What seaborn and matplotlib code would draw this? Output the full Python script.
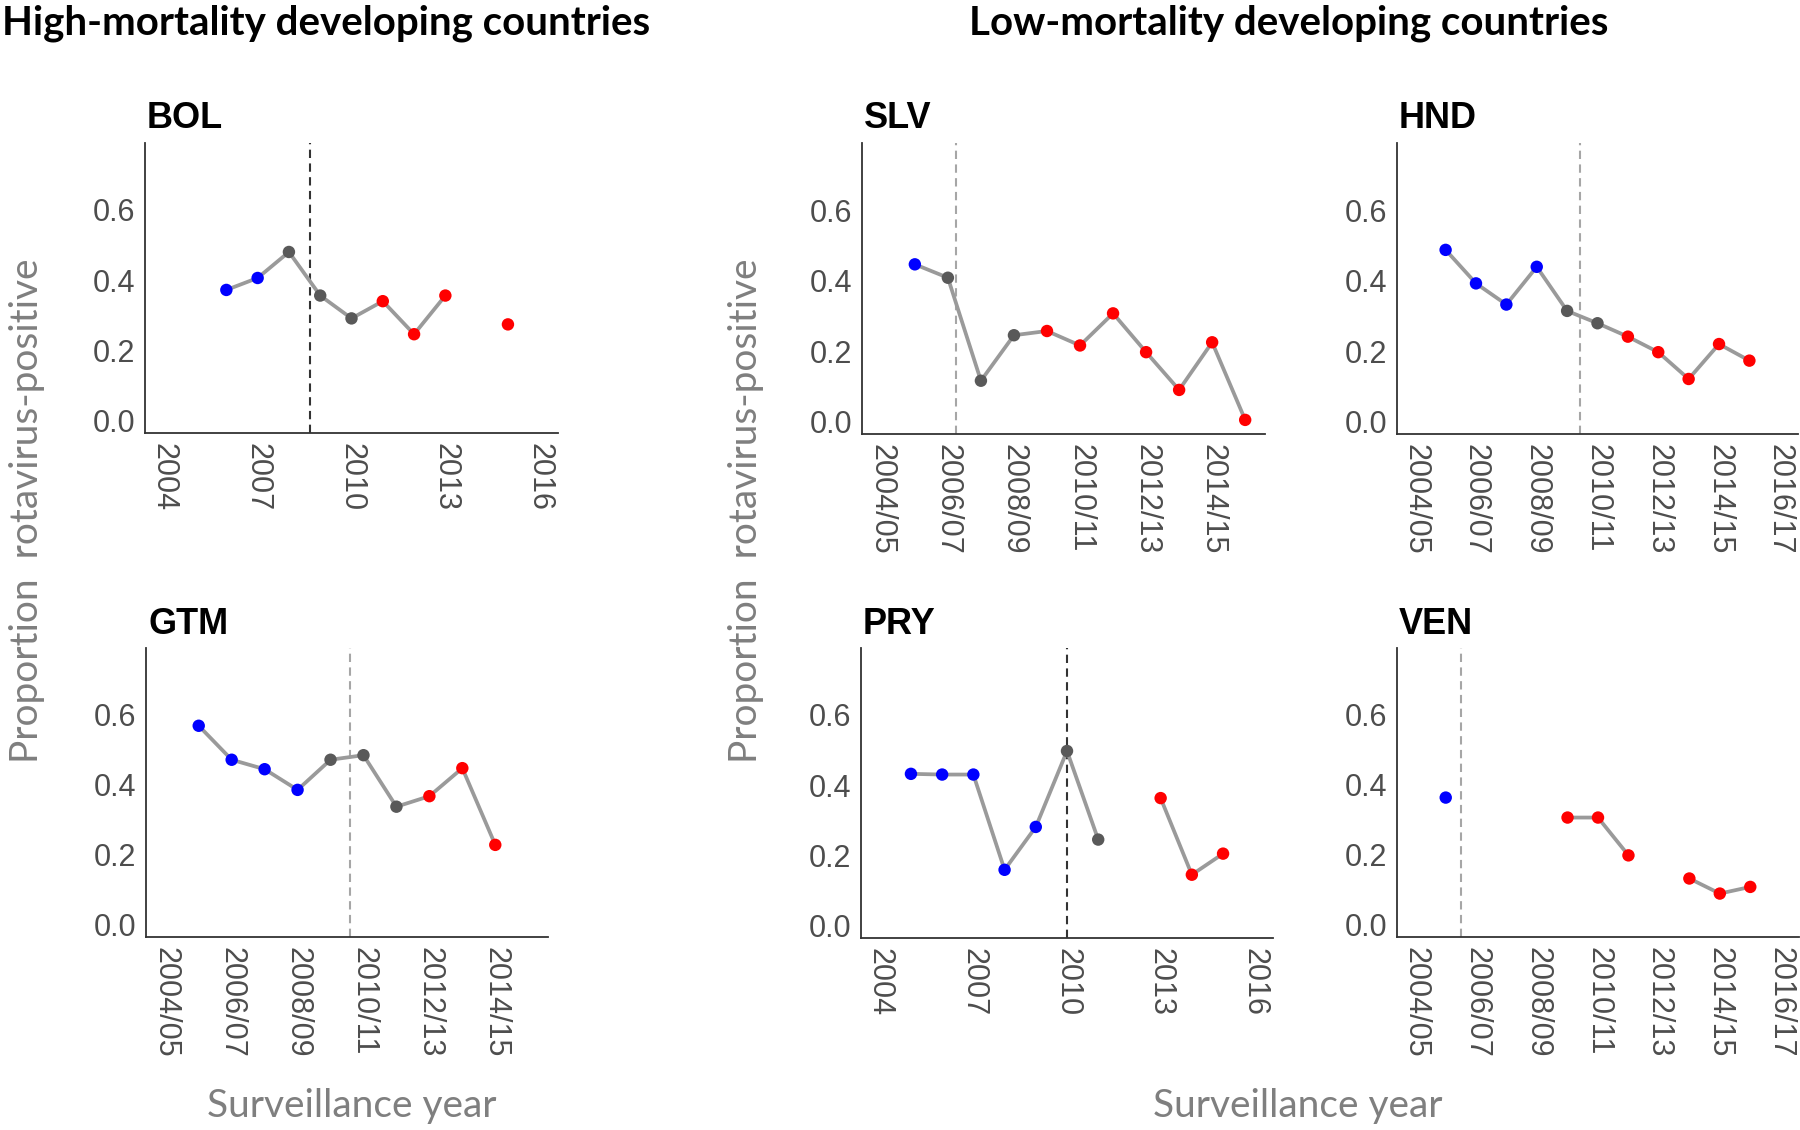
import numpy as np
import pandas as pd
import matplotlib
matplotlib.use('Agg')
import matplotlib.pyplot as plt
import seaborn as sns

# ----------------------------------------------------
# data
# ----------------------------------------------------
seasons = ['2004/05', '2005/06', '2006/07', '2007/08', '2008/09', '2009/10', '2010/11',
           '2011/12', '2012/13', '2013/14', '2014/15', '2015/16', '2016/17']
year_ticks = [2004, 2007, 2010, 2013, 2016]

bol_x = [2006, 2007, 2008, 2009, 2010, 2011, 2012, 2013, 2015]
bol_y = [0.372, 0.406, 0.480, 0.356, 0.291, 0.340, 0.246, 0.356, 0.274]
bol_phase = ['pre', 'pre', 'mid', 'mid', 'mid', 'post', 'post', 'post', 'post']
bol_intro = 2008.67

gtm_x = [1, 2, 3, 4, 5, 6, 7, 8, 9, 10]
gtm_y = [0.568, 0.471, 0.444, 0.385, 0.471, 0.484, 0.337, 0.367, 0.447, 0.228]
gtm_phase = ['pre', 'pre', 'pre', 'pre', 'mid', 'mid', 'mid', 'post', 'post', 'post']
gtm_intro = 5.58

slv_x = [1, 2, 3, 4, 5, 6, 7, 8, 9, 10, 11]
slv_y = [0.446, 0.408, 0.116, 0.245, 0.257, 0.216, 0.307, 0.197, 0.090, 0.225, 0.005]
slv_phase = ['pre', 'mid', 'mid', 'mid', 'post', 'post', 'post', 'post', 'post', 'post', 'post']
slv_intro = 2.25

hnd_x = [1, 2, 3, 4, 5, 6, 7, 8, 9, 10, 11]
hnd_y = [0.487, 0.392, 0.332, 0.439, 0.314, 0.279, 0.241, 0.197, 0.121, 0.220, 0.173]
hnd_phase = ['pre', 'pre', 'pre', 'pre', 'mid', 'mid', 'post', 'post', 'post', 'post', 'post']
hnd_intro = 5.41

pry_x = [2005, 2006, 2007, 2008, 2009, 2010, 2011, 2013, 2014, 2015]
pry_y = [0.432, 0.430, 0.430, 0.159, 0.281, 0.497, 0.245, 0.363, 0.145, 0.205]
pry_phase = ['pre', 'pre', 'pre', 'pre', 'pre', 'mid', 'mid', 'post', 'post', 'post']
pry_intro = 2010.0

ven_x = [1, 5, 6, 7, 9, 10, 11]
ven_y = [0.363, 0.306, 0.306, 0.198, 0.132, 0.089, 0.108]
ven_phase = ['pre', 'post', 'post', 'post', 'post', 'post', 'post']
ven_intro = 1.5

# ----------------------------------------------------
# style
# ----------------------------------------------------
sns.set_style('white')
plt.rcParams['font.family'] = ['Liberation Sans', 'DejaVu Sans']

palette = {'pre': '#0000ff', 'mid': '#595959', 'post': '#ff0000'}
axis_col = '#333333'
tick_col = '#4d4d4d'

fig = plt.figure(figsize=(18, 11.3), dpi=100)
W, H = 1800, 1130


def box(l, t, r, b):
    return [l / W, 1 - b / H, (r - l) / W, (b - t) / H]


def draw_panel(rect, title, x, y, phase, intro, intro_col, seasonal):
    ax = fig.add_axes(box(*rect))
    df = pd.DataFrame({'x': x, 'y': y, 'phase': phase})
    # break the line wherever a season/year is missing
    df['seg'] = np.cumsum(np.diff(df['x'], prepend=df['x'].iloc[0]) > 1)
    ax.axvline(intro, color=intro_col, lw=1.5, dashes=(4, 2.6), zorder=1)
    sns.lineplot(data=df, x='x', y='y', units='seg', estimator=None,
                 color='#9a9a9a', lw=2.7, ax=ax, legend=False, zorder=2)
    sns.scatterplot(data=df, x='x', y='y', hue='phase', palette=palette,
                    s=80, edgecolor='none', ax=ax, legend=False, zorder=3)
    if seasonal:
        n = 13 if title in ('HND', 'VEN') else 12
        ax.set_xlim(-0.6, n - 1 + 0.6)
        ax.set_xticks(range(n))
        ax.set_xticklabels([s if i % 2 == 0 else '' for i, s in enumerate(seasons[:n])])
    else:
        ax.set_xlim(2003.4, 2016.6)
        ax.set_xticks(year_ticks)
    ax.set_ylim(-0.035, 0.79)
    ax.set_yticks([0.0, 0.2, 0.4, 0.6])
    ax.set_yticklabels(['0.0', '0.2', '0.4', '0.6'])
    for s in ['top', 'right']:
        ax.spines[s].set_visible(False)
    for s in ['left', 'bottom']:
        ax.spines[s].set_color(axis_col)
        ax.spines[s].set_linewidth(1.3)
    ax.tick_params(axis='both', direction='out', length=4, width=1.3,
                   color=axis_col, labelcolor=tick_col, labelsize=22, pad=3)
    ax.tick_params(axis='x', labelrotation=-90)
    for lab in ax.get_xticklabels():
        lab.set_ha('center')
        lab.set_va('top')
    ax.set_xlabel('')
    ax.set_ylabel('')
    ax.text(0.005, 1.05, title, transform=ax.transAxes, fontsize=26,
            fontweight='bold', color='black', va='baseline', ha='left')
    return ax


draw_panel((145, 143, 558, 433), 'BOL', bol_x, bol_y, bol_phase, bol_intro, '#333333', False)
draw_panel((146, 648, 548, 937), 'GTM', gtm_x, gtm_y, gtm_phase, gtm_intro, '#a6a6a6', True)
draw_panel((862, 143, 1265, 434), 'SLV', slv_x, slv_y, slv_phase, slv_intro, '#a6a6a6', True)
draw_panel((1397, 143, 1798, 434), 'HND', hnd_x, hnd_y, hnd_phase, hnd_intro, '#a6a6a6', True)
draw_panel((861, 648, 1273, 938), 'PRY', pry_x, pry_y, pry_phase, pry_intro, '#333333', False)
draw_panel((1397, 648, 1799, 937), 'VEN', ven_x, ven_y, ven_phase, ven_intro, '#a6a6a6', True)

# column headers and shared axis labels
hdr = dict(family=['Lato', 'DejaVu Sans'], fontweight='bold', fontsize=29, color='black')
fig.text(2 / W, 1 - 34 / H, 'High-mortality developing countries', ha='left', va='baseline', **hdr)
fig.text(1289 / W, 1 - 34 / H, 'Low-mortality developing countries', ha='center', va='baseline', **hdr)

lab = dict(family=['Lato', 'DejaVu Sans'], fontsize=28, color='#7f7f7f')
for xc in (27, 746):
    fig.text(xc / W, 1 - 511 / H, 'Proportion  rotavirus-positive', rotation=90,
             ha='center', va='center', **lab)
for xc in (352, 1298):
    fig.text(xc / W, 1 - 1106 / H, 'Surveillance year', ha='center', va='center', **lab)

fig.savefig('out.png', dpi=100, facecolor='white')
